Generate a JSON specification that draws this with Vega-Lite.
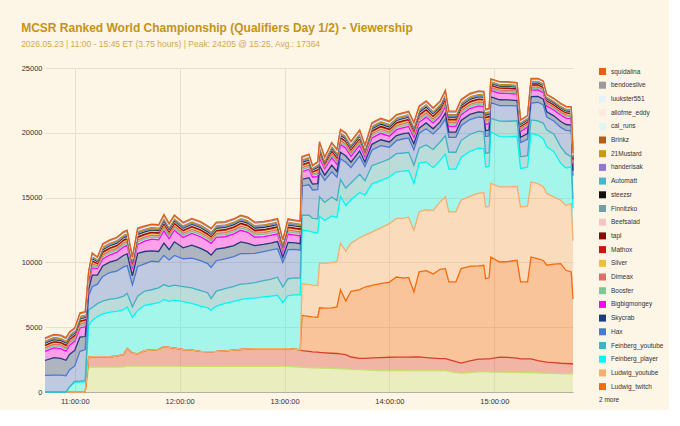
{
"$schema":"https://vega.github.io/schema/vega-lite/v6.json",
"width":528,"height":324,
"padding":{"left":21,"top":21,"right":5,"bottom":5},
"background":"#fdf5e6",
"title":{"text":"MCSR Ranked World Championship (Qualifiers Day 1/2) - Viewership","subtitle":"2026.05.23 | 11:00 - 15:45 ET (3.75 hours) | Peak: 24205 @ 15:25, Avg.: 17364","anchor":"start","frame":"bounds","font":"Liberation Sans","fontSize":12,"fontWeight":"bold","color":"#c4931a","subtitleFont":"Liberation Sans","subtitleFontSize":8.5,"subtitleColor":"#d4a94c","subtitlePadding":5.5,"offset":14.5},
"data":{"format":{"parse":{"t":"date:'%H:%M'"}},"values":[
{"t":"10:43","more_2":0,"more_1":0,"Ludwig_twitch":0,"Ludwig_youtube":0,"Feinberg_player":0,"Feinberg_youtube":0,"Hax":1280,"Skycrab":1150,"Bigbigmongey":700,"Boosfer":150,"Dimeax":130,"Silver":120,"Mathox":50,"tapl":50,"Beefsalad":75,"Finnitzko":45,"steezsr":35,"Automatt":45,"handerisak":35,"Mustard21":60,"Brinkz":70,"cal_runs":25,"allofme_eddy":25,"luukster551":25,"bendoeslive":35,"squidalina":65},
{"t":"10:48","more_2":0,"more_1":0,"Ludwig_twitch":0,"Ludwig_youtube":0,"Feinberg_player":0,"Feinberg_youtube":0,"Hax":1300,"Skycrab":1350,"Bigbigmongey":760,"Boosfer":150,"Dimeax":130,"Silver":120,"Mathox":50,"tapl":50,"Beefsalad":75,"Finnitzko":45,"steezsr":35,"Automatt":45,"handerisak":35,"Mustard21":60,"Brinkz":70,"cal_runs":25,"allofme_eddy":25,"luukster551":25,"bendoeslive":35,"squidalina":65},
{"t":"10:52","more_2":0,"more_1":0,"Ludwig_twitch":0,"Ludwig_youtube":0,"Feinberg_player":0,"Feinberg_youtube":0,"Hax":1300,"Skycrab":1300,"Bigbigmongey":750,"Boosfer":150,"Dimeax":130,"Silver":120,"Mathox":50,"tapl":50,"Beefsalad":75,"Finnitzko":45,"steezsr":35,"Automatt":45,"handerisak":35,"Mustard21":60,"Brinkz":70,"cal_runs":25,"allofme_eddy":25,"luukster551":25,"bendoeslive":35,"squidalina":65},
{"t":"10:55","more_2":0,"more_1":0,"Ludwig_twitch":0,"Ludwig_youtube":0,"Feinberg_player":0,"Feinberg_youtube":0,"Hax":1250,"Skycrab":1200,"Bigbigmongey":700,"Boosfer":150,"Dimeax":130,"Silver":120,"Mathox":50,"tapl":50,"Beefsalad":75,"Finnitzko":45,"steezsr":35,"Automatt":45,"handerisak":35,"Mustard21":60,"Brinkz":70,"cal_runs":25,"allofme_eddy":25,"luukster551":25,"bendoeslive":35,"squidalina":65},
{"t":"10:57","more_2":0,"more_1":0,"Ludwig_twitch":0,"Ludwig_youtube":0,"Feinberg_player":400,"Feinberg_youtube":0,"Hax":1300,"Skycrab":1200,"Bigbigmongey":700,"Boosfer":150,"Dimeax":130,"Silver":120,"Mathox":50,"tapl":50,"Beefsalad":75,"Finnitzko":45,"steezsr":35,"Automatt":45,"handerisak":35,"Mustard21":60,"Brinkz":70,"cal_runs":25,"allofme_eddy":25,"luukster551":25,"bendoeslive":35,"squidalina":65},
{"t":"11:00","more_2":0,"more_1":0,"Ludwig_twitch":0,"Ludwig_youtube":0,"Feinberg_player":760,"Feinberg_youtube":50,"Hax":1200,"Skycrab":1200,"Bigbigmongey":700,"Boosfer":150,"Dimeax":130,"Silver":120,"Mathox":50,"tapl":50,"Beefsalad":75,"Finnitzko":45,"steezsr":35,"Automatt":45,"handerisak":35,"Mustard21":60,"Brinkz":70,"cal_runs":25,"allofme_eddy":25,"luukster551":25,"bendoeslive":35,"squidalina":65},
{"t":"11:03","more_2":0,"more_1":0,"Ludwig_twitch":0,"Ludwig_youtube":0,"Feinberg_player":760,"Feinberg_youtube":80,"Hax":2300,"Skycrab":1100,"Bigbigmongey":700,"Boosfer":170,"Dimeax":145,"Silver":135,"Mathox":55,"tapl":55,"Beefsalad":85,"Finnitzko":50,"steezsr":40,"Automatt":50,"handerisak":40,"Mustard21":65,"Brinkz":80,"cal_runs":30,"allofme_eddy":30,"luukster551":30,"bendoeslive":40,"squidalina":70},
{"t":"11:06","more_2":0,"more_1":0,"Ludwig_twitch":0,"Ludwig_youtube":0,"Feinberg_player":780,"Feinberg_youtube":100,"Hax":2400,"Skycrab":1000,"Bigbigmongey":750,"Boosfer":170,"Dimeax":145,"Silver":135,"Mathox":55,"tapl":55,"Beefsalad":85,"Finnitzko":50,"steezsr":40,"Automatt":50,"handerisak":40,"Mustard21":65,"Brinkz":80,"cal_runs":30,"allofme_eddy":30,"luukster551":30,"bendoeslive":40,"squidalina":70},
{"t":"11:08","more_2":1920,"more_1":770,"Ludwig_twitch":0,"Ludwig_youtube":0,"Feinberg_player":2450,"Feinberg_youtube":1200,"Hax":1100,"Skycrab":500,"Bigbigmongey":500,"Boosfer":130,"Dimeax":110,"Silver":105,"Mathox":45,"tapl":45,"Beefsalad":65,"Finnitzko":40,"steezsr":30,"Automatt":40,"handerisak":30,"Mustard21":50,"Brinkz":60,"cal_runs":25,"allofme_eddy":25,"luukster551":25,"bendoeslive":30,"squidalina":45},
{"t":"11:10","more_2":1920,"more_1":800,"Ludwig_twitch":0,"Ludwig_youtube":0,"Feinberg_player":2800,"Feinberg_youtube":1000,"Hax":1600,"Skycrab":900,"Bigbigmongey":550,"Boosfer":170,"Dimeax":145,"Silver":135,"Mathox":55,"tapl":55,"Beefsalad":85,"Finnitzko":50,"steezsr":40,"Automatt":50,"handerisak":40,"Mustard21":65,"Brinkz":80,"cal_runs":30,"allofme_eddy":30,"luukster551":30,"bendoeslive":40,"squidalina":70},
{"t":"11:13","more_2":1920,"more_1":800,"Ludwig_twitch":0,"Ludwig_youtube":0,"Feinberg_player":3100,"Feinberg_youtube":1000,"Hax":1500,"Skycrab":700,"Bigbigmongey":500,"Boosfer":130,"Dimeax":110,"Silver":105,"Mathox":45,"tapl":45,"Beefsalad":65,"Finnitzko":40,"steezsr":30,"Automatt":40,"handerisak":30,"Mustard21":50,"Brinkz":60,"cal_runs":25,"allofme_eddy":25,"luukster551":25,"bendoeslive":30,"squidalina":45},
{"t":"11:16","more_2":1920,"more_1":800,"Ludwig_twitch":0,"Ludwig_youtube":0,"Feinberg_player":3300,"Feinberg_youtube":1000,"Hax":1900,"Skycrab":800,"Bigbigmongey":550,"Boosfer":170,"Dimeax":145,"Silver":135,"Mathox":55,"tapl":55,"Beefsalad":85,"Finnitzko":50,"steezsr":40,"Automatt":50,"handerisak":40,"Mustard21":65,"Brinkz":80,"cal_runs":30,"allofme_eddy":30,"luukster551":30,"bendoeslive":40,"squidalina":70},
{"t":"11:20","more_2":1920,"more_1":800,"Ludwig_twitch":0,"Ludwig_youtube":0,"Feinberg_player":3450,"Feinberg_youtube":1000,"Hax":2050,"Skycrab":800,"Bigbigmongey":550,"Boosfer":170,"Dimeax":145,"Silver":135,"Mathox":55,"tapl":55,"Beefsalad":85,"Finnitzko":50,"steezsr":40,"Automatt":50,"handerisak":40,"Mustard21":65,"Brinkz":80,"cal_runs":30,"allofme_eddy":30,"luukster551":30,"bendoeslive":40,"squidalina":70},
{"t":"11:24","more_2":1920,"more_1":850,"Ludwig_twitch":0,"Ludwig_youtube":0,"Feinberg_player":3450,"Feinberg_youtube":1000,"Hax":2100,"Skycrab":850,"Bigbigmongey":600,"Boosfer":170,"Dimeax":145,"Silver":135,"Mathox":55,"tapl":55,"Beefsalad":85,"Finnitzko":50,"steezsr":40,"Automatt":50,"handerisak":40,"Mustard21":65,"Brinkz":80,"cal_runs":30,"allofme_eddy":30,"luukster551":30,"bendoeslive":40,"squidalina":70},
{"t":"11:28","more_2":1950,"more_1":950,"Ludwig_twitch":0,"Ludwig_youtube":0,"Feinberg_player":3450,"Feinberg_youtube":1050,"Hax":2250,"Skycrab":900,"Bigbigmongey":650,"Boosfer":170,"Dimeax":145,"Silver":135,"Mathox":55,"tapl":55,"Beefsalad":85,"Finnitzko":50,"steezsr":40,"Automatt":50,"handerisak":40,"Mustard21":65,"Brinkz":80,"cal_runs":30,"allofme_eddy":30,"luukster551":30,"bendoeslive":40,"squidalina":70},
{"t":"11:30","more_2":1990,"more_1":1370,"Ludwig_twitch":0,"Ludwig_youtube":0,"Feinberg_player":3200,"Feinberg_youtube":1050,"Hax":2150,"Skycrab":900,"Bigbigmongey":650,"Boosfer":170,"Dimeax":145,"Silver":135,"Mathox":55,"tapl":55,"Beefsalad":85,"Finnitzko":50,"steezsr":40,"Automatt":50,"handerisak":40,"Mustard21":65,"Brinkz":80,"cal_runs":30,"allofme_eddy":30,"luukster551":30,"bendoeslive":40,"squidalina":70},
{"t":"11:33","more_2":1990,"more_1":1000,"Ludwig_twitch":0,"Ludwig_youtube":0,"Feinberg_player":2780,"Feinberg_youtube":800,"Hax":1700,"Skycrab":700,"Bigbigmongey":550,"Boosfer":130,"Dimeax":110,"Silver":105,"Mathox":45,"tapl":45,"Beefsalad":65,"Finnitzko":40,"steezsr":30,"Automatt":40,"handerisak":30,"Mustard21":50,"Brinkz":60,"cal_runs":25,"allofme_eddy":25,"luukster551":25,"bendoeslive":30,"squidalina":45},
{"t":"11:36","more_2":1990,"more_1":950,"Ludwig_twitch":0,"Ludwig_youtube":0,"Feinberg_player":3350,"Feinberg_youtube":1100,"Hax":2300,"Skycrab":1000,"Bigbigmongey":700,"Boosfer":185,"Dimeax":155,"Silver":145,"Mathox":60,"tapl":60,"Beefsalad":90,"Finnitzko":55,"steezsr":45,"Automatt":55,"handerisak":45,"Mustard21":70,"Brinkz":85,"cal_runs":30,"allofme_eddy":30,"luukster551":30,"bendoeslive":45,"squidalina":75},
{"t":"11:40","more_2":1990,"more_1":1200,"Ludwig_twitch":0,"Ludwig_youtube":0,"Feinberg_player":3500,"Feinberg_youtube":1100,"Hax":2100,"Skycrab":950,"Bigbigmongey":800,"Boosfer":170,"Dimeax":145,"Silver":135,"Mathox":55,"tapl":55,"Beefsalad":85,"Finnitzko":50,"steezsr":40,"Automatt":50,"handerisak":40,"Mustard21":65,"Brinkz":80,"cal_runs":30,"allofme_eddy":30,"luukster551":30,"bendoeslive":40,"squidalina":70},
{"t":"11:44","more_2":1990,"more_1":1250,"Ludwig_twitch":0,"Ludwig_youtube":0,"Feinberg_player":3550,"Feinberg_youtube":1100,"Hax":2200,"Skycrab":800,"Bigbigmongey":900,"Boosfer":170,"Dimeax":145,"Silver":135,"Mathox":55,"tapl":55,"Beefsalad":85,"Finnitzko":50,"steezsr":40,"Automatt":50,"handerisak":40,"Mustard21":65,"Brinkz":80,"cal_runs":30,"allofme_eddy":30,"luukster551":30,"bendoeslive":40,"squidalina":70},
{"t":"11:48","more_2":1990,"more_1":1300,"Ludwig_twitch":0,"Ludwig_youtube":0,"Feinberg_player":3600,"Feinberg_youtube":1150,"Hax":2000,"Skycrab":800,"Bigbigmongey":900,"Boosfer":170,"Dimeax":145,"Silver":135,"Mathox":55,"tapl":55,"Beefsalad":85,"Finnitzko":50,"steezsr":40,"Automatt":50,"handerisak":40,"Mustard21":65,"Brinkz":80,"cal_runs":30,"allofme_eddy":30,"luukster551":30,"bendoeslive":40,"squidalina":70},
{"t":"11:51","more_2":1990,"more_1":1500,"Ludwig_twitch":0,"Ludwig_youtube":0,"Feinberg_player":3650,"Feinberg_youtube":1150,"Hax":2250,"Skycrab":950,"Bigbigmongey":950,"Boosfer":185,"Dimeax":155,"Silver":145,"Mathox":60,"tapl":60,"Beefsalad":90,"Finnitzko":55,"steezsr":45,"Automatt":55,"handerisak":45,"Mustard21":70,"Brinkz":85,"cal_runs":30,"allofme_eddy":30,"luukster551":30,"bendoeslive":45,"squidalina":75},
{"t":"11:54","more_2":1990,"more_1":1450,"Ludwig_twitch":0,"Ludwig_youtube":0,"Feinberg_player":3550,"Feinberg_youtube":1150,"Hax":2050,"Skycrab":800,"Bigbigmongey":850,"Boosfer":170,"Dimeax":145,"Silver":135,"Mathox":55,"tapl":55,"Beefsalad":85,"Finnitzko":50,"steezsr":40,"Automatt":50,"handerisak":40,"Mustard21":65,"Brinkz":80,"cal_runs":30,"allofme_eddy":30,"luukster551":30,"bendoeslive":40,"squidalina":70},
{"t":"11:57","more_2":1990,"more_1":1400,"Ludwig_twitch":0,"Ludwig_youtube":0,"Feinberg_player":3700,"Feinberg_youtube":1150,"Hax":2300,"Skycrab":1050,"Bigbigmongey":900,"Boosfer":170,"Dimeax":145,"Silver":135,"Mathox":55,"tapl":55,"Beefsalad":85,"Finnitzko":50,"steezsr":40,"Automatt":50,"handerisak":40,"Mustard21":65,"Brinkz":80,"cal_runs":30,"allofme_eddy":30,"luukster551":30,"bendoeslive":40,"squidalina":70},
{"t":"12:02","more_2":1980,"more_1":1300,"Ludwig_twitch":0,"Ludwig_youtube":0,"Feinberg_player":3700,"Feinberg_youtube":1150,"Hax":2150,"Skycrab":850,"Bigbigmongey":800,"Boosfer":170,"Dimeax":145,"Silver":135,"Mathox":55,"tapl":55,"Beefsalad":85,"Finnitzko":50,"steezsr":40,"Automatt":50,"handerisak":40,"Mustard21":65,"Brinkz":80,"cal_runs":30,"allofme_eddy":30,"luukster551":30,"bendoeslive":40,"squidalina":70},
{"t":"12:07","more_2":1980,"more_1":1250,"Ludwig_twitch":0,"Ludwig_youtube":0,"Feinberg_player":3600,"Feinberg_youtube":1200,"Hax":2300,"Skycrab":1000,"Bigbigmongey":900,"Boosfer":170,"Dimeax":145,"Silver":135,"Mathox":55,"tapl":55,"Beefsalad":85,"Finnitzko":50,"steezsr":40,"Automatt":50,"handerisak":40,"Mustard21":65,"Brinkz":80,"cal_runs":30,"allofme_eddy":30,"luukster551":30,"bendoeslive":40,"squidalina":70},
{"t":"12:12","more_2":1980,"more_1":1150,"Ludwig_twitch":0,"Ludwig_youtube":0,"Feinberg_player":3500,"Feinberg_youtube":1200,"Hax":2300,"Skycrab":950,"Bigbigmongey":900,"Boosfer":170,"Dimeax":145,"Silver":135,"Mathox":55,"tapl":55,"Beefsalad":85,"Finnitzko":50,"steezsr":40,"Automatt":50,"handerisak":40,"Mustard21":65,"Brinkz":80,"cal_runs":30,"allofme_eddy":30,"luukster551":30,"bendoeslive":40,"squidalina":70},
{"t":"12:16","more_2":1980,"more_1":1130,"Ludwig_twitch":0,"Ludwig_youtube":0,"Feinberg_player":3400,"Feinberg_youtube":1150,"Hax":2250,"Skycrab":900,"Bigbigmongey":850,"Boosfer":170,"Dimeax":145,"Silver":135,"Mathox":55,"tapl":55,"Beefsalad":85,"Finnitzko":50,"steezsr":40,"Automatt":50,"handerisak":40,"Mustard21":65,"Brinkz":80,"cal_runs":30,"allofme_eddy":30,"luukster551":30,"bendoeslive":40,"squidalina":70},
{"t":"12:18","more_2":1980,"more_1":1130,"Ludwig_twitch":0,"Ludwig_youtube":0,"Feinberg_player":3200,"Feinberg_youtube":900,"Hax":2400,"Skycrab":950,"Bigbigmongey":900,"Boosfer":170,"Dimeax":145,"Silver":135,"Mathox":55,"tapl":55,"Beefsalad":85,"Finnitzko":50,"steezsr":40,"Automatt":50,"handerisak":40,"Mustard21":65,"Brinkz":80,"cal_runs":30,"allofme_eddy":30,"luukster551":30,"bendoeslive":40,"squidalina":70},
{"t":"12:21","more_2":1980,"more_1":1150,"Ludwig_twitch":0,"Ludwig_youtube":0,"Feinberg_player":3500,"Feinberg_youtube":1150,"Hax":2350,"Skycrab":900,"Bigbigmongey":900,"Boosfer":170,"Dimeax":145,"Silver":135,"Mathox":55,"tapl":55,"Beefsalad":85,"Finnitzko":50,"steezsr":40,"Automatt":50,"handerisak":40,"Mustard21":65,"Brinkz":80,"cal_runs":30,"allofme_eddy":30,"luukster551":30,"bendoeslive":40,"squidalina":70},
{"t":"12:26","more_2":1980,"more_1":1200,"Ludwig_twitch":0,"Ludwig_youtube":0,"Feinberg_player":3650,"Feinberg_youtube":1150,"Hax":2300,"Skycrab":850,"Bigbigmongey":850,"Boosfer":170,"Dimeax":145,"Silver":135,"Mathox":55,"tapl":55,"Beefsalad":85,"Finnitzko":50,"steezsr":40,"Automatt":50,"handerisak":40,"Mustard21":65,"Brinkz":80,"cal_runs":30,"allofme_eddy":30,"luukster551":30,"bendoeslive":40,"squidalina":70},
{"t":"12:31","more_2":1980,"more_1":1250,"Ludwig_twitch":0,"Ludwig_youtube":0,"Feinberg_player":3770,"Feinberg_youtube":1150,"Hax":2300,"Skycrab":850,"Bigbigmongey":900,"Boosfer":170,"Dimeax":145,"Silver":135,"Mathox":55,"tapl":55,"Beefsalad":85,"Finnitzko":50,"steezsr":40,"Automatt":50,"handerisak":40,"Mustard21":65,"Brinkz":80,"cal_runs":30,"allofme_eddy":30,"luukster551":30,"bendoeslive":40,"squidalina":70},
{"t":"12:35","more_2":1980,"more_1":1300,"Ludwig_twitch":0,"Ludwig_youtube":0,"Feinberg_player":3850,"Feinberg_youtube":1200,"Hax":2350,"Skycrab":900,"Bigbigmongey":900,"Boosfer":170,"Dimeax":145,"Silver":135,"Mathox":55,"tapl":55,"Beefsalad":85,"Finnitzko":50,"steezsr":40,"Automatt":50,"handerisak":40,"Mustard21":65,"Brinkz":80,"cal_runs":30,"allofme_eddy":30,"luukster551":30,"bendoeslive":40,"squidalina":70},
{"t":"12:39","more_2":1970,"more_1":1350,"Ludwig_twitch":0,"Ludwig_youtube":0,"Feinberg_player":3900,"Feinberg_youtube":1150,"Hax":2300,"Skycrab":800,"Bigbigmongey":850,"Boosfer":170,"Dimeax":145,"Silver":135,"Mathox":55,"tapl":55,"Beefsalad":85,"Finnitzko":50,"steezsr":40,"Automatt":50,"handerisak":40,"Mustard21":65,"Brinkz":80,"cal_runs":30,"allofme_eddy":30,"luukster551":30,"bendoeslive":40,"squidalina":70},
{"t":"12:43","more_2":1970,"more_1":1370,"Ludwig_twitch":0,"Ludwig_youtube":0,"Feinberg_player":3900,"Feinberg_youtube":1200,"Hax":2250,"Skycrab":600,"Bigbigmongey":650,"Boosfer":170,"Dimeax":145,"Silver":135,"Mathox":55,"tapl":55,"Beefsalad":85,"Finnitzko":50,"steezsr":40,"Automatt":50,"handerisak":40,"Mustard21":65,"Brinkz":80,"cal_runs":30,"allofme_eddy":30,"luukster551":30,"bendoeslive":40,"squidalina":70},
{"t":"12:48","more_2":1970,"more_1":1370,"Ludwig_twitch":0,"Ludwig_youtube":0,"Feinberg_player":4000,"Feinberg_youtube":1250,"Hax":2250,"Skycrab":550,"Bigbigmongey":600,"Boosfer":170,"Dimeax":145,"Silver":135,"Mathox":55,"tapl":55,"Beefsalad":85,"Finnitzko":50,"steezsr":40,"Automatt":50,"handerisak":40,"Mustard21":65,"Brinkz":80,"cal_runs":30,"allofme_eddy":30,"luukster551":30,"bendoeslive":40,"squidalina":70},
{"t":"12:52","more_2":1970,"more_1":1370,"Ludwig_twitch":0,"Ludwig_youtube":0,"Feinberg_player":4050,"Feinberg_youtube":1300,"Hax":2250,"Skycrab":550,"Bigbigmongey":600,"Boosfer":170,"Dimeax":145,"Silver":135,"Mathox":55,"tapl":55,"Beefsalad":85,"Finnitzko":50,"steezsr":40,"Automatt":50,"handerisak":40,"Mustard21":65,"Brinkz":80,"cal_runs":30,"allofme_eddy":30,"luukster551":30,"bendoeslive":40,"squidalina":70},
{"t":"12:56","more_2":1970,"more_1":1370,"Ludwig_twitch":0,"Ludwig_youtube":0,"Feinberg_player":4120,"Feinberg_youtube":1400,"Hax":2200,"Skycrab":550,"Bigbigmongey":600,"Boosfer":170,"Dimeax":145,"Silver":135,"Mathox":55,"tapl":55,"Beefsalad":85,"Finnitzko":50,"steezsr":40,"Automatt":50,"handerisak":40,"Mustard21":65,"Brinkz":80,"cal_runs":30,"allofme_eddy":30,"luukster551":30,"bendoeslive":40,"squidalina":70},
{"t":"12:59","more_2":1970,"more_1":1370,"Ludwig_twitch":0,"Ludwig_youtube":0,"Feinberg_player":3560,"Feinberg_youtube":1200,"Hax":1900,"Skycrab":400,"Bigbigmongey":450,"Boosfer":130,"Dimeax":110,"Silver":105,"Mathox":45,"tapl":45,"Beefsalad":65,"Finnitzko":40,"steezsr":30,"Automatt":40,"handerisak":30,"Mustard21":50,"Brinkz":60,"cal_runs":25,"allofme_eddy":25,"luukster551":25,"bendoeslive":30,"squidalina":45},
{"t":"13:02","more_2":1970,"more_1":1370,"Ludwig_twitch":0,"Ludwig_youtube":0,"Feinberg_player":4100,"Feinberg_youtube":1300,"Hax":2250,"Skycrab":550,"Bigbigmongey":650,"Boosfer":170,"Dimeax":145,"Silver":135,"Mathox":55,"tapl":55,"Beefsalad":85,"Finnitzko":50,"steezsr":40,"Automatt":50,"handerisak":40,"Mustard21":65,"Brinkz":80,"cal_runs":30,"allofme_eddy":30,"luukster551":30,"bendoeslive":40,"squidalina":70},
{"t":"13:06","more_2":1950,"more_1":1350,"Ludwig_twitch":0,"Ludwig_youtube":0,"Feinberg_player":4200,"Feinberg_youtube":1300,"Hax":2200,"Skycrab":500,"Bigbigmongey":600,"Boosfer":170,"Dimeax":145,"Silver":135,"Mathox":55,"tapl":55,"Beefsalad":85,"Finnitzko":50,"steezsr":40,"Automatt":50,"handerisak":40,"Mustard21":65,"Brinkz":80,"cal_runs":30,"allofme_eddy":30,"luukster551":30,"bendoeslive":40,"squidalina":70},
{"t":"13:09","more_2":1920,"more_1":1320,"Ludwig_twitch":0,"Ludwig_youtube":0,"Feinberg_player":4250,"Feinberg_youtube":1300,"Hax":2150,"Skycrab":500,"Bigbigmongey":600,"Boosfer":170,"Dimeax":145,"Silver":135,"Mathox":55,"tapl":55,"Beefsalad":85,"Finnitzko":50,"steezsr":40,"Automatt":50,"handerisak":40,"Mustard21":65,"Brinkz":80,"cal_runs":30,"allofme_eddy":30,"luukster551":30,"bendoeslive":40,"squidalina":70},
{"t":"13:10","more_2":1900,"more_1":1300,"Ludwig_twitch":2710,"Ludwig_youtube":2450,"Feinberg_player":4120,"Feinberg_youtube":1160,"Hax":2260,"Skycrab":500,"Bigbigmongey":600,"Boosfer":170,"Dimeax":145,"Silver":135,"Mathox":55,"tapl":55,"Beefsalad":85,"Finnitzko":50,"steezsr":40,"Automatt":50,"handerisak":40,"Mustard21":65,"Brinkz":80,"cal_runs":30,"allofme_eddy":30,"luukster551":30,"bendoeslive":40,"squidalina":70},
{"t":"13:14","more_2":1880,"more_1":1250,"Ludwig_twitch":2710,"Ludwig_youtube":2450,"Feinberg_player":4150,"Feinberg_youtube":1200,"Hax":2350,"Skycrab":550,"Bigbigmongey":650,"Boosfer":170,"Dimeax":145,"Silver":135,"Mathox":55,"tapl":55,"Beefsalad":85,"Finnitzko":50,"steezsr":40,"Automatt":50,"handerisak":40,"Mustard21":65,"Brinkz":80,"cal_runs":30,"allofme_eddy":30,"luukster551":30,"bendoeslive":40,"squidalina":70},
{"t":"13:16","more_2":1870,"more_1":1220,"Ludwig_twitch":2700,"Ludwig_youtube":2450,"Feinberg_player":4100,"Feinberg_youtube":1050,"Hax":2200,"Skycrab":450,"Bigbigmongey":550,"Boosfer":130,"Dimeax":110,"Silver":105,"Mathox":45,"tapl":45,"Beefsalad":65,"Finnitzko":40,"steezsr":30,"Automatt":40,"handerisak":30,"Mustard21":50,"Brinkz":60,"cal_runs":25,"allofme_eddy":25,"luukster551":25,"bendoeslive":30,"squidalina":45},
{"t":"13:19","more_2":1860,"more_1":1210,"Ludwig_twitch":2700,"Ludwig_youtube":2450,"Feinberg_player":4050,"Feinberg_youtube":1100,"Hax":2250,"Skycrab":450,"Bigbigmongey":550,"Boosfer":170,"Dimeax":145,"Silver":135,"Mathox":55,"tapl":55,"Beefsalad":85,"Finnitzko":50,"steezsr":40,"Automatt":50,"handerisak":40,"Mustard21":65,"Brinkz":80,"cal_runs":30,"allofme_eddy":30,"luukster551":30,"bendoeslive":40,"squidalina":70},
{"t":"13:20","more_2":1850,"more_1":1200,"Ludwig_twitch":3450,"Ludwig_youtube":3460,"Feinberg_player":3600,"Feinberg_youtube":1500,"Hax":1900,"Skycrab":500,"Bigbigmongey":600,"Boosfer":185,"Dimeax":155,"Silver":145,"Mathox":60,"tapl":60,"Beefsalad":90,"Finnitzko":55,"steezsr":45,"Automatt":55,"handerisak":45,"Mustard21":70,"Brinkz":85,"cal_runs":30,"allofme_eddy":30,"luukster551":30,"bendoeslive":45,"squidalina":75},
{"t":"13:23","more_2":1840,"more_1":1180,"Ludwig_twitch":3450,"Ludwig_youtube":3460,"Feinberg_player":3300,"Feinberg_youtube":1400,"Hax":1700,"Skycrab":400,"Bigbigmongey":500,"Boosfer":130,"Dimeax":110,"Silver":105,"Mathox":45,"tapl":45,"Beefsalad":65,"Finnitzko":40,"steezsr":30,"Automatt":40,"handerisak":30,"Mustard21":50,"Brinkz":60,"cal_runs":25,"allofme_eddy":25,"luukster551":25,"bendoeslive":30,"squidalina":45},
{"t":"13:27","more_2":1820,"more_1":1170,"Ludwig_twitch":3500,"Ludwig_youtube":3500,"Feinberg_player":3600,"Feinberg_youtube":1450,"Hax":1950,"Skycrab":500,"Bigbigmongey":600,"Boosfer":170,"Dimeax":145,"Silver":135,"Mathox":55,"tapl":55,"Beefsalad":85,"Finnitzko":50,"steezsr":40,"Automatt":50,"handerisak":40,"Mustard21":65,"Brinkz":80,"cal_runs":30,"allofme_eddy":30,"luukster551":30,"bendoeslive":40,"squidalina":70},
{"t":"13:30","more_2":1800,"more_1":1170,"Ludwig_twitch":3600,"Ludwig_youtube":3500,"Feinberg_player":3400,"Feinberg_youtube":1300,"Hax":1800,"Skycrab":450,"Bigbigmongey":550,"Boosfer":170,"Dimeax":145,"Silver":135,"Mathox":55,"tapl":55,"Beefsalad":85,"Finnitzko":50,"steezsr":40,"Automatt":50,"handerisak":40,"Mustard21":65,"Brinkz":80,"cal_runs":30,"allofme_eddy":30,"luukster551":30,"bendoeslive":40,"squidalina":70},
{"t":"13:32","more_2":1790,"more_1":1150,"Ludwig_twitch":4950,"Ludwig_youtube":3600,"Feinberg_player":3610,"Feinberg_youtube":1300,"Hax":1600,"Skycrab":500,"Bigbigmongey":600,"Boosfer":170,"Dimeax":145,"Silver":135,"Mathox":55,"tapl":55,"Beefsalad":85,"Finnitzko":50,"steezsr":40,"Automatt":50,"handerisak":40,"Mustard21":65,"Brinkz":80,"cal_runs":30,"allofme_eddy":30,"luukster551":30,"bendoeslive":40,"squidalina":70},
{"t":"13:35","more_2":1780,"more_1":1100,"Ludwig_twitch":4140,"Ludwig_youtube":3860,"Feinberg_player":3500,"Feinberg_youtube":1350,"Hax":2000,"Skycrab":500,"Bigbigmongey":600,"Boosfer":170,"Dimeax":145,"Silver":135,"Mathox":55,"tapl":55,"Beefsalad":85,"Finnitzko":50,"steezsr":40,"Automatt":50,"handerisak":40,"Mustard21":65,"Brinkz":80,"cal_runs":30,"allofme_eddy":30,"luukster551":30,"bendoeslive":40,"squidalina":70},
{"t":"13:38","more_2":1750,"more_1":950,"Ludwig_twitch":5070,"Ludwig_youtube":3700,"Feinberg_player":3360,"Feinberg_youtube":1300,"Hax":1200,"Skycrab":400,"Bigbigmongey":450,"Boosfer":170,"Dimeax":145,"Silver":135,"Mathox":55,"tapl":55,"Beefsalad":85,"Finnitzko":50,"steezsr":40,"Automatt":50,"handerisak":40,"Mustard21":65,"Brinkz":80,"cal_runs":30,"allofme_eddy":30,"luukster551":30,"bendoeslive":40,"squidalina":70},
{"t":"13:43","more_2":1720,"more_1":880,"Ludwig_twitch":5300,"Ludwig_youtube":4000,"Feinberg_player":3500,"Feinberg_youtube":1400,"Hax":1400,"Skycrab":400,"Bigbigmongey":450,"Boosfer":170,"Dimeax":145,"Silver":135,"Mathox":55,"tapl":55,"Beefsalad":85,"Finnitzko":50,"steezsr":40,"Automatt":50,"handerisak":40,"Mustard21":65,"Brinkz":80,"cal_runs":30,"allofme_eddy":30,"luukster551":30,"bendoeslive":40,"squidalina":70},
{"t":"13:46","more_2":1700,"more_1":900,"Ludwig_twitch":5500,"Ludwig_youtube":4000,"Feinberg_player":3100,"Feinberg_youtube":1100,"Hax":1100,"Skycrab":350,"Bigbigmongey":400,"Boosfer":130,"Dimeax":110,"Silver":105,"Mathox":45,"tapl":45,"Beefsalad":65,"Finnitzko":40,"steezsr":30,"Automatt":40,"handerisak":30,"Mustard21":50,"Brinkz":60,"cal_runs":25,"allofme_eddy":25,"luukster551":25,"bendoeslive":30,"squidalina":45},
{"t":"13:50","more_2":1680,"more_1":950,"Ludwig_twitch":5600,"Ludwig_youtube":4100,"Feinberg_player":3730,"Feinberg_youtube":1400,"Hax":1200,"Skycrab":450,"Bigbigmongey":500,"Boosfer":170,"Dimeax":145,"Silver":135,"Mathox":55,"tapl":55,"Beefsalad":85,"Finnitzko":50,"steezsr":40,"Automatt":50,"handerisak":40,"Mustard21":65,"Brinkz":80,"cal_runs":30,"allofme_eddy":30,"luukster551":30,"bendoeslive":40,"squidalina":70},
{"t":"13:55","more_2":1660,"more_1":1000,"Ludwig_twitch":5700,"Ludwig_youtube":4300,"Feinberg_player":3650,"Feinberg_youtube":1400,"Hax":1300,"Skycrab":450,"Bigbigmongey":500,"Boosfer":170,"Dimeax":145,"Silver":135,"Mathox":55,"tapl":55,"Beefsalad":85,"Finnitzko":50,"steezsr":40,"Automatt":50,"handerisak":40,"Mustard21":65,"Brinkz":80,"cal_runs":30,"allofme_eddy":30,"luukster551":30,"bendoeslive":40,"squidalina":70},
{"t":"14:00","more_2":1650,"more_1":1030,"Ludwig_twitch":5800,"Ludwig_youtube":4510,"Feinberg_player":3600,"Feinberg_youtube":1400,"Hax":900,"Skycrab":400,"Bigbigmongey":450,"Boosfer":170,"Dimeax":145,"Silver":135,"Mathox":55,"tapl":55,"Beefsalad":85,"Finnitzko":50,"steezsr":40,"Automatt":50,"handerisak":40,"Mustard21":65,"Brinkz":80,"cal_runs":30,"allofme_eddy":30,"luukster551":30,"bendoeslive":40,"squidalina":70},
{"t":"14:04","more_2":1650,"more_1":1040,"Ludwig_twitch":6180,"Ludwig_youtube":4520,"Feinberg_player":3600,"Feinberg_youtube":1400,"Hax":1000,"Skycrab":400,"Bigbigmongey":450,"Boosfer":170,"Dimeax":145,"Silver":135,"Mathox":55,"tapl":55,"Beefsalad":85,"Finnitzko":50,"steezsr":40,"Automatt":50,"handerisak":40,"Mustard21":65,"Brinkz":80,"cal_runs":30,"allofme_eddy":30,"luukster551":30,"bendoeslive":40,"squidalina":70},
{"t":"14:08","more_2":1650,"more_1":1040,"Ludwig_twitch":6100,"Ludwig_youtube":4600,"Feinberg_player":3650,"Feinberg_youtube":1400,"Hax":1100,"Skycrab":400,"Bigbigmongey":450,"Boosfer":170,"Dimeax":145,"Silver":135,"Mathox":55,"tapl":55,"Beefsalad":85,"Finnitzko":50,"steezsr":40,"Automatt":50,"handerisak":40,"Mustard21":65,"Brinkz":80,"cal_runs":30,"allofme_eddy":30,"luukster551":30,"bendoeslive":40,"squidalina":70},
{"t":"14:11","more_2":1650,"more_1":1040,"Ludwig_twitch":6150,"Ludwig_youtube":4650,"Feinberg_player":3600,"Feinberg_youtube":1400,"Hax":1100,"Skycrab":400,"Bigbigmongey":500,"Boosfer":170,"Dimeax":145,"Silver":135,"Mathox":55,"tapl":55,"Beefsalad":85,"Finnitzko":50,"steezsr":40,"Automatt":50,"handerisak":40,"Mustard21":65,"Brinkz":80,"cal_runs":30,"allofme_eddy":30,"luukster551":30,"bendoeslive":40,"squidalina":70},
{"t":"14:14","more_2":1660,"more_1":1040,"Ludwig_twitch":5030,"Ludwig_youtube":4760,"Feinberg_player":3610,"Feinberg_youtube":1400,"Hax":1200,"Skycrab":450,"Bigbigmongey":500,"Boosfer":170,"Dimeax":145,"Silver":135,"Mathox":55,"tapl":55,"Beefsalad":85,"Finnitzko":50,"steezsr":40,"Automatt":50,"handerisak":40,"Mustard21":65,"Brinkz":80,"cal_runs":30,"allofme_eddy":30,"luukster551":30,"bendoeslive":40,"squidalina":70},
{"t":"14:17","more_2":1660,"more_1":1050,"Ludwig_twitch":6560,"Ludwig_youtube":4640,"Feinberg_player":3750,"Feinberg_youtube":1150,"Hax":1150,"Skycrab":400,"Bigbigmongey":450,"Boosfer":185,"Dimeax":155,"Silver":145,"Mathox":60,"tapl":60,"Beefsalad":90,"Finnitzko":55,"steezsr":45,"Automatt":55,"handerisak":45,"Mustard21":70,"Brinkz":85,"cal_runs":30,"allofme_eddy":30,"luukster551":30,"bendoeslive":45,"squidalina":75},
{"t":"14:21","more_2":1660,"more_1":1000,"Ludwig_twitch":6700,"Ludwig_youtube":4700,"Feinberg_player":3700,"Feinberg_youtube":1300,"Hax":1250,"Skycrab":450,"Bigbigmongey":450,"Boosfer":185,"Dimeax":155,"Silver":145,"Mathox":60,"tapl":60,"Beefsalad":90,"Finnitzko":55,"steezsr":45,"Automatt":55,"handerisak":45,"Mustard21":70,"Brinkz":85,"cal_runs":30,"allofme_eddy":30,"luukster551":30,"bendoeslive":45,"squidalina":75},
{"t":"14:25","more_2":1660,"more_1":950,"Ludwig_twitch":6500,"Ludwig_youtube":4900,"Feinberg_player":3300,"Feinberg_youtube":1400,"Hax":1200,"Skycrab":400,"Bigbigmongey":450,"Boosfer":170,"Dimeax":145,"Silver":135,"Mathox":55,"tapl":55,"Beefsalad":85,"Finnitzko":50,"steezsr":40,"Automatt":50,"handerisak":40,"Mustard21":65,"Brinkz":80,"cal_runs":30,"allofme_eddy":30,"luukster551":30,"bendoeslive":40,"squidalina":70},
{"t":"14:29","more_2":1660,"more_1":910,"Ludwig_twitch":6900,"Ludwig_youtube":5200,"Feinberg_player":3200,"Feinberg_youtube":1420,"Hax":1150,"Skycrab":400,"Bigbigmongey":450,"Boosfer":170,"Dimeax":145,"Silver":135,"Mathox":55,"tapl":55,"Beefsalad":85,"Finnitzko":50,"steezsr":40,"Automatt":50,"handerisak":40,"Mustard21":65,"Brinkz":80,"cal_runs":30,"allofme_eddy":30,"luukster551":30,"bendoeslive":40,"squidalina":70},
{"t":"14:32","more_2":1660,"more_1":910,"Ludwig_twitch":6950,"Ludwig_youtube":5540,"Feinberg_player":3300,"Feinberg_youtube":1420,"Hax":1300,"Skycrab":450,"Bigbigmongey":500,"Boosfer":185,"Dimeax":155,"Silver":145,"Mathox":60,"tapl":60,"Beefsalad":90,"Finnitzko":55,"steezsr":45,"Automatt":55,"handerisak":45,"Mustard21":70,"Brinkz":85,"cal_runs":30,"allofme_eddy":30,"luukster551":30,"bendoeslive":45,"squidalina":75},
{"t":"14:34","more_2":1600,"more_1":900,"Ludwig_twitch":5990,"Ludwig_youtube":5410,"Feinberg_player":3300,"Feinberg_youtube":1300,"Hax":1150,"Skycrab":400,"Bigbigmongey":450,"Boosfer":170,"Dimeax":145,"Silver":135,"Mathox":55,"tapl":55,"Beefsalad":85,"Finnitzko":50,"steezsr":40,"Automatt":50,"handerisak":40,"Mustard21":65,"Brinkz":80,"cal_runs":30,"allofme_eddy":30,"luukster551":30,"bendoeslive":40,"squidalina":70},
{"t":"14:38","more_2":1500,"more_1":850,"Ludwig_twitch":6140,"Ludwig_youtube":5410,"Feinberg_player":3300,"Feinberg_youtube":1300,"Hax":1150,"Skycrab":400,"Bigbigmongey":450,"Boosfer":170,"Dimeax":145,"Silver":135,"Mathox":55,"tapl":55,"Beefsalad":85,"Finnitzko":50,"steezsr":40,"Automatt":50,"handerisak":40,"Mustard21":65,"Brinkz":80,"cal_runs":30,"allofme_eddy":30,"luukster551":30,"bendoeslive":40,"squidalina":70},
{"t":"14:41","more_2":1450,"more_1":780,"Ludwig_twitch":7290,"Ludwig_youtube":5280,"Feinberg_player":3300,"Feinberg_youtube":1300,"Hax":1150,"Skycrab":400,"Bigbigmongey":450,"Boosfer":170,"Dimeax":145,"Silver":135,"Mathox":55,"tapl":55,"Beefsalad":85,"Finnitzko":50,"steezsr":40,"Automatt":50,"handerisak":40,"Mustard21":65,"Brinkz":80,"cal_runs":30,"allofme_eddy":30,"luukster551":30,"bendoeslive":40,"squidalina":70},
{"t":"14:46","more_2":1500,"more_1":900,"Ludwig_twitch":7300,"Ludwig_youtube":5400,"Feinberg_player":3470,"Feinberg_youtube":1300,"Hax":1150,"Skycrab":400,"Bigbigmongey":450,"Boosfer":170,"Dimeax":145,"Silver":135,"Mathox":55,"tapl":55,"Beefsalad":85,"Finnitzko":50,"steezsr":40,"Automatt":50,"handerisak":40,"Mustard21":65,"Brinkz":80,"cal_runs":30,"allofme_eddy":30,"luukster551":30,"bendoeslive":40,"squidalina":70},
{"t":"14:51","more_2":1550,"more_1":980,"Ludwig_twitch":7200,"Ludwig_youtube":5620,"Feinberg_player":3470,"Feinberg_youtube":1300,"Hax":1100,"Skycrab":400,"Bigbigmongey":450,"Boosfer":170,"Dimeax":145,"Silver":135,"Mathox":55,"tapl":55,"Beefsalad":85,"Finnitzko":50,"steezsr":40,"Automatt":50,"handerisak":40,"Mustard21":65,"Brinkz":80,"cal_runs":30,"allofme_eddy":30,"luukster551":30,"bendoeslive":40,"squidalina":70},
{"t":"14:54","more_2":1550,"more_1":980,"Ludwig_twitch":7250,"Ludwig_youtube":5600,"Feinberg_player":3400,"Feinberg_youtube":1300,"Hax":1100,"Skycrab":400,"Bigbigmongey":450,"Boosfer":170,"Dimeax":145,"Silver":135,"Mathox":55,"tapl":55,"Beefsalad":85,"Finnitzko":50,"steezsr":40,"Automatt":50,"handerisak":40,"Mustard21":65,"Brinkz":80,"cal_runs":30,"allofme_eddy":30,"luukster551":30,"bendoeslive":40,"squidalina":70},
{"t":"14:55","more_2":1560,"more_1":990,"Ludwig_twitch":6200,"Ludwig_youtube":5540,"Feinberg_player":3090,"Feinberg_youtube":1030,"Hax":1300,"Skycrab":450,"Bigbigmongey":500,"Boosfer":170,"Dimeax":145,"Silver":135,"Mathox":55,"tapl":55,"Beefsalad":85,"Finnitzko":50,"steezsr":40,"Automatt":50,"handerisak":40,"Mustard21":65,"Brinkz":80,"cal_runs":30,"allofme_eddy":30,"luukster551":30,"bendoeslive":40,"squidalina":70},
{"t":"14:57","more_2":1560,"more_1":1000,"Ludwig_twitch":6250,"Ludwig_youtube":5500,"Feinberg_player":3100,"Feinberg_youtube":1050,"Hax":1300,"Skycrab":450,"Bigbigmongey":500,"Boosfer":170,"Dimeax":145,"Silver":135,"Mathox":55,"tapl":55,"Beefsalad":85,"Finnitzko":50,"steezsr":40,"Automatt":50,"handerisak":40,"Mustard21":65,"Brinkz":80,"cal_runs":30,"allofme_eddy":30,"luukster551":30,"bendoeslive":40,"squidalina":70},
{"t":"14:58","more_2":1540,"more_1":1030,"Ludwig_twitch":7850,"Ludwig_youtube":5670,"Feinberg_player":3990,"Feinberg_youtube":1040,"Hax":1200,"Skycrab":450,"Bigbigmongey":500,"Boosfer":130,"Dimeax":110,"Silver":105,"Mathox":45,"tapl":45,"Beefsalad":65,"Finnitzko":40,"steezsr":30,"Automatt":40,"handerisak":30,"Mustard21":50,"Brinkz":60,"cal_runs":25,"allofme_eddy":25,"luukster551":25,"bendoeslive":30,"squidalina":45},
{"t":"15:03","more_2":1530,"more_1":1160,"Ludwig_twitch":7340,"Ludwig_youtube":5800,"Feinberg_player":3870,"Feinberg_youtube":1200,"Hax":1200,"Skycrab":450,"Bigbigmongey":500,"Boosfer":130,"Dimeax":110,"Silver":105,"Mathox":45,"tapl":45,"Beefsalad":65,"Finnitzko":40,"steezsr":30,"Automatt":40,"handerisak":30,"Mustard21":50,"Brinkz":60,"cal_runs":25,"allofme_eddy":25,"luukster551":25,"bendoeslive":30,"squidalina":45},
{"t":"15:08","more_2":1520,"more_1":1150,"Ludwig_twitch":7400,"Ludwig_youtube":5750,"Feinberg_player":3870,"Feinberg_youtube":1200,"Hax":1200,"Skycrab":450,"Bigbigmongey":500,"Boosfer":130,"Dimeax":110,"Silver":105,"Mathox":45,"tapl":45,"Beefsalad":65,"Finnitzko":40,"steezsr":30,"Automatt":40,"handerisak":30,"Mustard21":50,"Brinkz":60,"cal_runs":25,"allofme_eddy":25,"luukster551":25,"bendoeslive":30,"squidalina":45},
{"t":"15:13","more_2":1510,"more_1":1100,"Ludwig_twitch":7550,"Ludwig_youtube":5700,"Feinberg_player":3870,"Feinberg_youtube":1200,"Hax":1150,"Skycrab":400,"Bigbigmongey":500,"Boosfer":130,"Dimeax":110,"Silver":105,"Mathox":45,"tapl":45,"Beefsalad":65,"Finnitzko":40,"steezsr":30,"Automatt":40,"handerisak":30,"Mustard21":50,"Brinkz":60,"cal_runs":25,"allofme_eddy":25,"luukster551":25,"bendoeslive":30,"squidalina":45},
{"t":"15:15","more_2":1500,"more_1":1050,"Ludwig_twitch":5940,"Ludwig_youtube":5800,"Feinberg_player":2960,"Feinberg_youtube":900,"Hax":1100,"Skycrab":400,"Bigbigmongey":450,"Boosfer":130,"Dimeax":110,"Silver":105,"Mathox":45,"tapl":45,"Beefsalad":65,"Finnitzko":40,"steezsr":30,"Automatt":40,"handerisak":30,"Mustard21":50,"Brinkz":60,"cal_runs":25,"allofme_eddy":25,"luukster551":25,"bendoeslive":30,"squidalina":45},
{"t":"15:19","more_2":1500,"more_1":1050,"Ludwig_twitch":5940,"Ludwig_youtube":5850,"Feinberg_player":3000,"Feinberg_youtube":900,"Hax":1250,"Skycrab":450,"Bigbigmongey":500,"Boosfer":130,"Dimeax":110,"Silver":105,"Mathox":45,"tapl":45,"Beefsalad":65,"Finnitzko":40,"steezsr":30,"Automatt":40,"handerisak":30,"Mustard21":50,"Brinkz":60,"cal_runs":25,"allofme_eddy":25,"luukster551":25,"bendoeslive":30,"squidalina":45},
{"t":"15:21","more_2":1500,"more_1":1050,"Ludwig_twitch":7870,"Ludwig_youtube":5800,"Feinberg_player":3740,"Feinberg_youtube":1030,"Hax":1300,"Skycrab":500,"Bigbigmongey":500,"Boosfer":130,"Dimeax":110,"Silver":105,"Mathox":45,"tapl":45,"Beefsalad":65,"Finnitzko":40,"steezsr":30,"Automatt":40,"handerisak":30,"Mustard21":50,"Brinkz":60,"cal_runs":25,"allofme_eddy":25,"luukster551":25,"bendoeslive":30,"squidalina":45},
{"t":"15:25","more_2":1470,"more_1":950,"Ludwig_twitch":7850,"Ludwig_youtube":5800,"Feinberg_player":3750,"Feinberg_youtube":1100,"Hax":1435,"Skycrab":450,"Bigbigmongey":500,"Boosfer":130,"Dimeax":110,"Silver":105,"Mathox":45,"tapl":45,"Beefsalad":65,"Finnitzko":40,"steezsr":30,"Automatt":40,"handerisak":30,"Mustard21":50,"Brinkz":60,"cal_runs":25,"allofme_eddy":25,"luukster551":25,"bendoeslive":30,"squidalina":45},
{"t":"15:28","more_2":1450,"more_1":900,"Ludwig_twitch":7800,"Ludwig_youtube":5700,"Feinberg_player":3700,"Feinberg_youtube":1200,"Hax":1400,"Skycrab":450,"Bigbigmongey":500,"Boosfer":130,"Dimeax":110,"Silver":105,"Mathox":45,"tapl":45,"Beefsalad":65,"Finnitzko":40,"steezsr":30,"Automatt":40,"handerisak":30,"Mustard21":50,"Brinkz":60,"cal_runs":25,"allofme_eddy":25,"luukster551":25,"bendoeslive":30,"squidalina":45},
{"t":"15:30","more_2":1450,"more_1":850,"Ludwig_twitch":7480,"Ludwig_youtube":5540,"Feinberg_player":3600,"Feinberg_youtube":1300,"Hax":1000,"Skycrab":400,"Bigbigmongey":450,"Boosfer":130,"Dimeax":110,"Silver":105,"Mathox":45,"tapl":45,"Beefsalad":65,"Finnitzko":40,"steezsr":30,"Automatt":40,"handerisak":30,"Mustard21":50,"Brinkz":60,"cal_runs":25,"allofme_eddy":25,"luukster551":25,"bendoeslive":30,"squidalina":45},
{"t":"15:34","more_2":1440,"more_1":820,"Ludwig_twitch":7600,"Ludwig_youtube":5200,"Feinberg_player":3500,"Feinberg_youtube":1350,"Hax":1000,"Skycrab":400,"Bigbigmongey":450,"Boosfer":130,"Dimeax":110,"Silver":105,"Mathox":45,"tapl":45,"Beefsalad":65,"Finnitzko":40,"steezsr":30,"Automatt":40,"handerisak":30,"Mustard21":50,"Brinkz":60,"cal_runs":25,"allofme_eddy":25,"luukster551":25,"bendoeslive":30,"squidalina":45},
{"t":"15:38","more_2":1420,"more_1":800,"Ludwig_twitch":7690,"Ludwig_youtube":4890,"Feinberg_player":2840,"Feinberg_youtube":1280,"Hax":1500,"Skycrab":450,"Bigbigmongey":500,"Boosfer":130,"Dimeax":110,"Silver":105,"Mathox":45,"tapl":45,"Beefsalad":65,"Finnitzko":40,"steezsr":30,"Automatt":40,"handerisak":30,"Mustard21":50,"Brinkz":60,"cal_runs":25,"allofme_eddy":25,"luukster551":25,"bendoeslive":30,"squidalina":45},
{"t":"15:41","more_2":1410,"more_1":790,"Ludwig_twitch":7190,"Ludwig_youtube":5000,"Feinberg_player":2900,"Feinberg_youtube":1100,"Hax":1800,"Skycrab":450,"Bigbigmongey":500,"Boosfer":130,"Dimeax":110,"Silver":105,"Mathox":45,"tapl":45,"Beefsalad":65,"Finnitzko":40,"steezsr":30,"Automatt":40,"handerisak":30,"Mustard21":50,"Brinkz":60,"cal_runs":25,"allofme_eddy":25,"luukster551":25,"bendoeslive":30,"squidalina":45},
{"t":"15:44","more_2":1400,"more_1":780,"Ludwig_twitch":7080,"Ludwig_youtube":5290,"Feinberg_player":2830,"Feinberg_youtube":770,"Hax":2000,"Skycrab":450,"Bigbigmongey":500,"Boosfer":130,"Dimeax":110,"Silver":105,"Mathox":45,"tapl":45,"Beefsalad":65,"Finnitzko":40,"steezsr":30,"Automatt":40,"handerisak":30,"Mustard21":50,"Brinkz":60,"cal_runs":25,"allofme_eddy":25,"luukster551":25,"bendoeslive":30,"squidalina":45},
{"t":"15:45","more_2":1400,"more_1":780,"Ludwig_twitch":5000,"Ludwig_youtube":4500,"Feinberg_player":2500,"Feinberg_youtube":700,"Hax":1800,"Skycrab":400,"Bigbigmongey":450,"Boosfer":130,"Dimeax":110,"Silver":105,"Mathox":45,"tapl":45,"Beefsalad":65,"Finnitzko":40,"steezsr":30,"Automatt":40,"handerisak":30,"Mustard21":50,"Brinkz":60,"cal_runs":25,"allofme_eddy":25,"luukster551":25,"bendoeslive":30,"squidalina":45}
]},
"transform":[
{"fold":["more_2","more_1","Ludwig_twitch","Ludwig_youtube","Feinberg_player","Feinberg_youtube","Hax","Skycrab","Bigbigmongey","Boosfer","Dimeax","Silver","Mathox","tapl","Beefsalad","Finnitzko","steezsr","Automatt","handerisak","Mustard21","Brinkz","cal_runs","allofme_eddy","luukster551","bendoeslive","squidalina"],"as":["s","v"]},
{"window":[{"op":"row_number","as":"o"}],"groupby":["t"]},
{"stack":"v","groupby":["t"],"sort":[{"field":"o","order":"ascending"}],"as":["y0","y1"]}
],
"encoding":{
"x":{"field":"t","type":"temporal","scale":{"nice":false},"axis":{"title":null,"format":"%H:%M:%S","tickCount":5,"grid":true,"gridColor":"#e8dfcb","ticks":false,"domain":true,"domainColor":"#b5b0a5","labelFontSize":7.5,"labelColor":"#333333","labelFont":"Liberation Sans","labelPadding":5}},
"color":{"field":"s","type":"nominal","scale":{"domain":["squidalina","bendoeslive","luukster551","allofme_eddy","cal_runs","Brinkz","Mustard21","handerisak","Automatt","steezsr","Finnitzko","Beefsalad","tapl","Mathox","Silver","Dimeax","Boosfer","Bigbigmongey","Skycrab","Hax","Feinberg_youtube","Feinberg_player","Ludwig_youtube","Ludwig_twitch","more_1","more_2"],"range":["#e2601a","#9a9a9a","#e6f2fa","#fbeae4","#e2f5f2","#b0601c","#c79a10","#8f79d6","#3dbccc","#111111","#6fa0a8","#f2c6c2","#8e0a0a","#cc1414","#ecc038","#de6e6a","#7cc69a","#ff00f0","#1c3c7c","#4a78d4","#3fb2c4","#00f8f0","#f4ae6e","#f46a0c","#d8402a","#c5e070"]},
"legend":{"title":"2 more","titleOrient":"bottom","titleFontWeight":"normal","titleFontSize":6.5,"titleColor":"#333333","titleFont":"Liberation Sans","titlePadding":7,"values":["squidalina","bendoeslive","luukster551","allofme_eddy","cal_runs","Brinkz","Mustard21","handerisak","Automatt","steezsr","Finnitzko","Beefsalad","tapl","Mathox","Silver","Dimeax","Boosfer","Bigbigmongey","Skycrab","Hax","Feinberg_youtube","Feinberg_player","Ludwig_youtube","Ludwig_twitch"],"labelExpr":"datum.label == 'Mustard21' ? '21Mustard' : datum.label","symbolType":"square","symbolSize":49,"symbolOpacity":1,"symbolStrokeWidth":0,"labelFontSize":6.5,"labelFont":"Liberation Sans","labelColor":"#333333","labelOffset":5,"rowPadding":6.7,"offset":23,"padding":0}}
},
"layer":[
{"mark":{"type":"area","fillOpacity":0.35,"strokeWidth":0},"encoding":{"y":{"field":"y1","type":"quantitative","scale":{"domain":[0,25000],"nice":false},"axis":{"title":null,"values":[0,5000,10000,15000,20000,25000],"format":"d","grid":true,"gridColor":"#e8dfcb","ticks":false,"domain":false,"labelFontSize":7.5,"labelColor":"#333333","labelFont":"Liberation Sans","labelPadding":3}},"y2":{"field":"y0"}}},
{"mark":{"type":"line","strokeWidth":1.3},"encoding":{"y":{"field":"y1","type":"quantitative"}}}
],
"config":{"view":{"stroke":null}}
}
